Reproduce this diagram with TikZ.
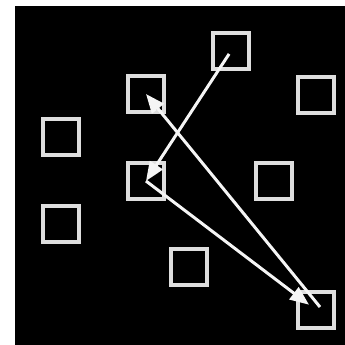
\documentclass[tikz,border=0pt]{standalone}
\usetikzlibrary{arrows.meta}
\definecolor{boxgray}{RGB}{222,222,222}
\definecolor{arrowwhite}{RGB}{245,245,245}

\begin{document}
\begin{tikzpicture}[x=0.02cm, y=-0.02cm,
  cell/.style={draw=boxgray, line width=0.09cm, minimum size=0.72cm, inner sep=0pt},
  jump/.style={draw=arrowwhite, line width=0.06cm, -{Triangle[length=0.38cm, width=0.3cm]}}]
\useasboundingbox (0,0) rectangle (345,345);
\fill[black] (15,6) rectangle (345,345);

% the nine squares
\node[cell] (top) at (231,51) {};
\node[cell] (upmid) at (146,94) {};
\node[cell] (right) at (316,95) {};
\node[cell] (left) at (61,137) {};
\node[cell] (mid) at (146,181) {};
\node[cell] (midright) at (274,181) {};
\node[cell] (lowleft) at (61,224) {};
\node[cell] (low) at (189,267) {};
\node[cell] (corner) at (316,310) {};
\coordinate (cornerstart) at (320,307);

% the moves
\draw[jump, shorten <=2pt] (top.center) -- (mid.center);
\draw[jump, shorten >=5pt] (mid.center) -- (corner.center);
\draw[jump] (cornerstart) -- (upmid.center);
\end{tikzpicture}
\end{document}
